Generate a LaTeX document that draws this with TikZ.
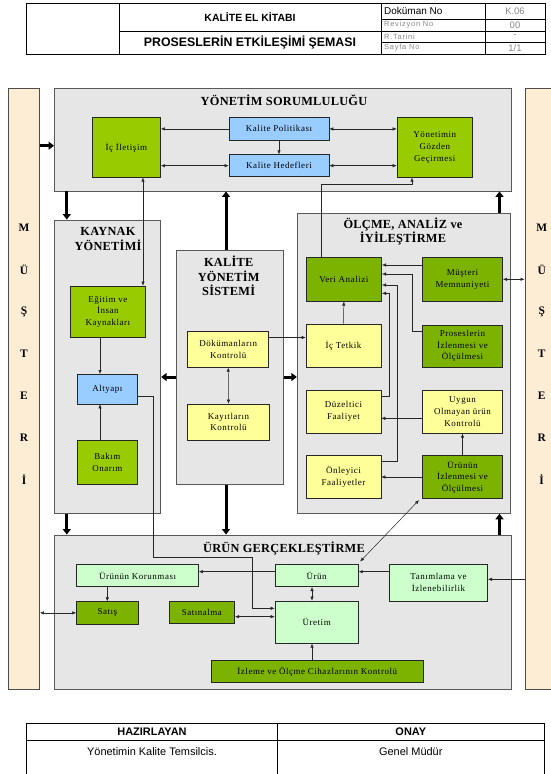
\documentclass[tikz,border=0pt]{standalone}
\usepackage{fontspec}
\setmainfont{Liberation Serif}
\newfontfamily\boxfont{Liberation Serif}[LetterSpace=6]
\newfontfamily\ttlfont{Liberation Serif}[LetterSpace=2]
\newfontfamily\hdrfont{Liberation Sans}
\newfontfamily\grayfont{Liberation Sans}[LetterSpace=10]
\usetikzlibrary{arrows.meta,positioning}
\definecolor{secgray}{RGB}{230,230,230}
\definecolor{peach}{RGB}{253,237,213}
\definecolor{greenA}{RGB}{153,204,0}
\definecolor{greenB}{RGB}{124,178,0}
\definecolor{blueA}{RGB}{153,204,255}
\definecolor{yellowA}{RGB}{255,255,153}
\definecolor{mintA}{RGB}{204,255,204}
\definecolor{txtgray}{RGB}{135,135,135}
\tikzset{
  sz/.style 2 args={minimum width=#1bp,minimum height=#2bp},
  sect/.style={draw=black!65,fill=secgray,line width=0.9pt,inner sep=0pt},
  mcol/.style={draw=black!70,fill=peach,line width=0.9pt,inner sep=0pt},
  mletter/.style={font=\ttlfont\bfseries\fontsize{11.5}{12}\selectfont,inner sep=0pt},
  box/.style={draw=black!85,line width=0.6pt,inner sep=1bp,align=center,
    font=\boxfont\fontsize{9}{11.7}\selectfont},
  gbox/.style={box,fill=greenA},
  dbox/.style={box,fill=greenB},
  bbox/.style={box,fill=blueA},
  ybox/.style={box,fill=yellowA},
  lbox/.style={box,fill=mintA},
  ttl/.style={align=center,inner sep=0pt,font=\ttlfont\bfseries\fontsize{12.4}{14.3}\selectfont},
  arr/.style={-{Latex[length=4bp,width=3.4bp]},line width=0.5pt,draw=black!85},
  darr/.style={{Latex[length=4bp,width=3.4bp]}-{Latex[length=4bp,width=3.4bp]},line width=0.5pt,draw=black!85},
  bigarr/.style={-{Triangle[length=5.5bp,width=8bp]},line width=3bp},
  hcell/.style={inner sep=0pt,font=\hdrfont\fontsize{10}{11}\selectfont},
  gcell/.style={inner sep=0pt,text=txtgray,font=\grayfont\fontsize{7.5}{9}\selectfont},
  vcell/.style={inner sep=0pt,text=txtgray,font=\hdrfont\fontsize{9.5}{10}\selectfont},
  fcell/.style={inner sep=0pt,font=\hdrfont\fontsize{11}{12}\selectfont},
}

\begin{document}
\begin{tikzpicture}[x=1bp,y=-1bp]
\useasboundingbox (0,0) rectangle (551,774);

% header table
\draw[line width=0.6pt] (26,3) rectangle (545,54);
\draw[line width=0.6pt] (119.5,3) -- (119.5,54);
\draw[line width=0.6pt] (381,3) -- (381,54);
\draw[line width=0.6pt] (485,3) -- (485,54);
\draw[line width=0.6pt] (119.5,31) -- (381,31);
\draw[line width=0.6pt] (381,19) -- (545,19);
\draw[line width=0.6pt] (381,31) -- (545,31);
\draw[line width=0.6pt] (381,42) -- (545,42);
\node[hcell,font=\hdrfont\bfseries\fontsize{10.5}{12}\selectfont] (kek) at (250,17.5) {KALİTE EL KİTABI};
\node[hcell,font=\hdrfont\bfseries\fontsize{12.4}{14}\selectfont] (pes) at (250,42.5) {PROSESLERİN ETKİLEŞİMİ ŞEMASI};
\node[hcell,anchor=west] (dno) at (384,11) {Doküman No};
\node[gcell,anchor=west] (rno) at (384,25) {Revizyon No};
\node[gcell,anchor=west] (rta) at (384,36.5) {R.Tarini};
\node[gcell,anchor=west] (sno) at (384,48) {Sayfa No};
\node[vcell] (vdno) at (515,11) {K.06};
\node[vcell] (vrno) at (515,25) {00};
\node[vcell] (vrta) at (515,36.5) {-};
\node[vcell] (vsno) at (515,48) {1/1};

% musteri columns
\node[mcol,sz={31.2}{601}] (mleft) at (23.9,388.8) {};
\node[mcol,sz={40}{601}] (mright) at (545,388.8) {};
\foreach \l [count=\i from 0] in {M,Ü,Ş,T,E,R,İ} {
  \node[mletter] (ml\i) at (24,227.5+42*\i) {\l};
  \node[mletter] (mr\i) at (541.7,227.5+42*\i) {\l};
}

% sections
\node[sect,sz={456.8}{102.7}] (ys) at (282.9,139.65) {};
\node[sect,sz={106.7}{293.3}] (kay) at (107.35,366.65) {};
\node[sect,sz={106.6}{233.6}] (kys) at (230,367.5) {};
\node[sect,sz={213.4}{300}] (olc) at (404,363.3) {};
\node[sect,sz={456.8}{154.3}] (ug) at (282.9,612.15) {};
\node[ttl] (ystitle) at (284,100.7) {YÖNETİM SORUMLULUĞU};
\node[ttl] (kaytitle) at (108,239) {KAYNAK\\YÖNETİMİ};
\node[ttl] (kystitle) at (228.7,276) {KALİTE\\YÖNETİM\\SİSTEMİ};
\node[ttl] (olctitle) at (403,231.2) {ÖLÇME, ANALİZ ve\\İYİLEŞTİRME};
\node[ttl] (ugtitle) at (284,548.3) {ÜRÜN GERÇEKLEŞTİRME};

% yonetim sorumlulugu
\node[gbox,sz={68.6}{59.6}] (icilet) at (126.3,147.5) {İç İletişim};
\node[bbox,sz={100}{22.3}] (kpol) at (279,128.9) {Kalite Politikası};
\node[bbox,sz={100}{22}] (khed) at (279,165.7) {Kalite Hedefleri};
\node[gbox,sz={75.6}{59.6}] (yon) at (434.8,147.5) {Yönetimin\\Gözden\\Geçirmesi};

% kaynak yonetimi
\node[gbox,sz={75.7}{51.3}] (egi) at (107.85,311.65) {Eğitim ve\\İnsan\\Kaynakları};
\node[bbox,sz={60.7}{29.7}] (alt) at (107.35,389.15) {Altyapı};
\node[gbox,sz={60.7}{44.3}] (bak) at (107.35,462.15) {Bakım\\Onarım};

% kalite yonetim sistemi
\node[ybox,sz={81}{36.3}] (dok) at (228.2,349.15) {Dökümanların\\Kontrolü};
\node[ybox,sz={81.6}{36}] (kayit) at (228.5,422) {Kayıtların\\Kontrolü};

% olcme analiz
\node[dbox,sz={75.7}{44}] (veri) at (343.85,279.3) {Veri Analizi};
\node[dbox,sz={80.4}{44}] (mus) at (462.5,279.3) {Müşteri\\Memnuniyeti};
\node[ybox,sz={75}{43.3}] (ict) at (343.5,345.65) {İç Tetkik};
\node[dbox,sz={80.4}{42.3}] (pros) at (462.5,346.15) {Proseslerin\\İzlenmesi ve\\Ölçülmesi};
\node[ybox,sz={75}{43.3}] (duz) at (343.5,411.65) {Düzeltici\\Faaliyet};
\node[ybox,sz={80.4}{43.3}] (uyg) at (462.5,411.65) {Uygun\\Olmayan ürün\\Kontrolü};
\node[ybox,sz={75}{42.6}] (onl) at (343.5,477) {Önleyici\\Faaliyetler};
\node[dbox,sz={80.4}{42.6}] (uri) at (462.5,477) {Ürünün\\İzlenmesi ve\\Ölçülmesi};

% urun gerceklestirme
\node[lbox,sz={121.9}{22.4}] (kor) at (137.55,575.5) {Ürünün Korunması};
\node[lbox,sz={83.4}{22.4}] (urun) at (316.7,575.5) {Ürün};
\node[lbox,sz={98.4}{36.7}] (tan) at (438.5,582.65) {Tanımlama ve\\İzlenebilirlik};
\node[dbox,sz={61.4}{22.3}] (sat) at (107.3,612.85) {Satış};
\node[dbox,sz={65.7}{21.6}] (satin) at (201.85,612.5) {Satınalma};
\node[lbox,sz={83.4}{42.3}] (uret) at (316.7,622.15) {Üretim};
\node[dbox,sz={212.9}{21.6}] (izl) at (317.25,671.5) {İzleme ve Ölçme Cihazlarının Kontrolü};

% reference lines
\coordinate (xa) at (66.8,0);
\coordinate (xb) at (143,0);
\coordinate (xc) at (226,0);
\coordinate (xf) at (499.5,0);
\coordinate (xg) at (100,0);
\coordinate (xu) at (312,0);
\coordinate (ya) at (0,145.7);
\coordinate (ym) at (0,377);
\coordinate (yd) at (0,337.5);

% thick arrows
\draw[bigarr] (mleft.east |- ya) -- (ys.west |- ya);
\draw[bigarr] (ys.south -| xa) -- (kay.north -| xa);
\draw[bigarr] (kys.north -| xc) -- (ys.south -| xc);
\draw[bigarr] (olc.north -| xf) -- (ys.south -| xf);
\draw[bigarr] (kay.south -| xa) -- (ug.north -| xa);
\draw[bigarr] (kys.south -| xc) -- (ug.north -| xc);
\draw[bigarr] (ug.north -| xf) -- (olc.south -| xf);
\draw[bigarr] (kys.west |- ym) -- (kay.east |- ym);
\draw[bigarr] (kys.east |- ym) -- (olc.west |- ym);

% yonetim arrows
\draw[arr] (kpol.west) -- (kpol.west -| icilet.east);
\draw[darr] (kpol.east) -- (kpol.east -| yon.west);
\draw[arr] (kpol.south) -- (khed.north);
\draw[darr] (khed.west) -- (khed.west -| icilet.east);
\draw[darr] (khed.east) -- (khed.east -| yon.west);
\draw[darr] (icilet.south -| xb) -- (egi.north -| xb);
\coordinate (vk) at (321.5,184);
\coordinate (yk) at (412,184);
\draw[arr] (veri.north -| vk) -- (vk) -- (yk) -- (yon.south -| yk);

% kaynak arrows
\draw[arr] (egi.south -| xg) -- (alt.north -| xg);
\draw[arr] (bak.north -| xg) -- (alt.south -| xg);
\coordinate (altA) at (153.5,396.7);
\coordinate (altB) at (252,557.7);
\coordinate (altC) at (0,608.3);
\draw[arr] (alt.east |- altA) -- (altA) |- (altB) |- (uret.west |- altC);

% kys arrows
\draw[darr] (dok.south) -- (kayit.north);
\draw[arr] (dok.east |- yd) -- (ict.west |- yd);

% olcme arrows
\coordinate (v1) at (0,265);
\coordinate (v2) at (0,274);
\coordinate (v3) at (0,285);
\coordinate (v4) at (0,293.3);
\coordinate (p1) at (0,331);
\coordinate (p2) at (0,461.7);
\coordinate (p3) at (0,396.7);
\coordinate (p4) at (0,418.3);
\draw[arr] (mus.west |- v1) -- (veri.east |- v1);
\draw[arr] (pros.west |- p1) -- ++(-9.6,0) |- (veri.east |- v2);
\draw[arr] (onl.east |- p2) -- ++(15.7,0) |- (veri.east |- v3);
\draw[arr] (duz.east |- p3) -- ++(8.3,0) |- (veri.east |- v4);
\draw[arr] (ict.north) -- (veri.south);
\draw[arr] (uyg.west |- p4) -- (duz.east |- p4);
\draw[arr] (uri.north) -- (uyg.south);
\draw[arr] (uri.west) -- (onl.east);
\draw[darr] (mus.east) -- (mus.east -| mright.west);
\draw[darr] ([shift={(1.5,-2.5)}]urun.north east) -- ([shift={(-3,1.5)}]uri.south west);

% urun gerceklestirme arrows
\coordinate (u1) at (0,571.7);
\coordinate (u2) at (0,579.3);
\coordinate (u3) at (0,616.7);
\draw[arr] (urun.west |- u1) -- (kor.east |- u1);
\draw[arr] (tan.west |- u1) -- (urun.east |- u1);
\draw[arr] (mright.west |- u2) -- (tan.east |- u2);
\draw[arr] (sat.north |- kor.south) -- (sat.north);
\draw[darr] (mleft.east |- sat.west) -- (sat.west);
\draw[darr] (satin.east |- u3) -- (uret.west |- u3);
\draw[darr] (urun.south -| xu) -- (uret.north -| xu);
\draw[arr] (izl.north -| xu) -- (uret.south -| xu);

% footer table
\draw[line width=0.6pt] (26.4,790) -- (26.4,723.3) -- (544,723.3) -- (544,790);
\draw[line width=0.6pt] (26.4,740) -- (544,740);
\draw[line width=0.6pt] (277.6,723.3) -- (277.6,790);
\node[fcell,font=\hdrfont\bfseries\fontsize{11}{12}\selectfont] (haz) at (152,731.7) {HAZIRLAYAN};
\node[fcell,font=\hdrfont\bfseries\fontsize{11}{12}\selectfont] (onay) at (410.8,731.7) {ONAY};
\node[fcell] (ykt) at (152,751.7) {Yönetimin Kalite Temsilcis.};
\node[fcell] (gm) at (410.8,751.7) {Genel Müdür};
\end{tikzpicture}
\end{document}
